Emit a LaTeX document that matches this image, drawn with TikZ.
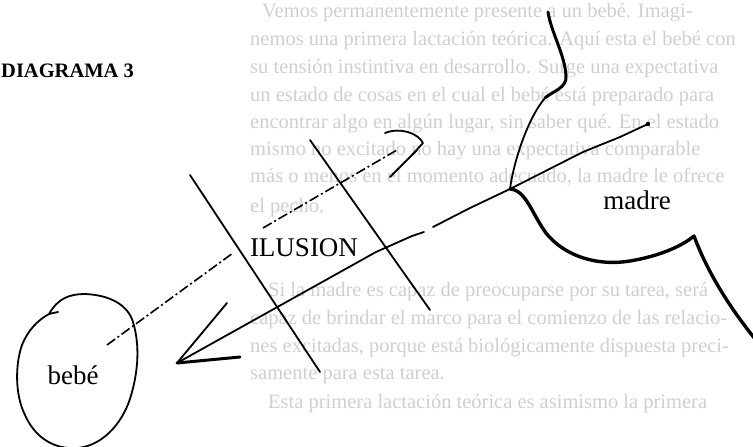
\documentclass[tikz,border=0pt]{standalone}
\usepackage{fontspec}
\setmainfont{Liberation Serif}
\begin{document}
\begin{tikzpicture}[
        x=1pt, y=-1pt,
        label/.style={font=\fontsize{27}{27}\selectfont, inner sep=0pt},
        heading/.style={font=\fontsize{20.5}{20.5}\selectfont\bfseries, inner sep=0pt, anchor=west},
        bgline/.style={font=\fontsize{20.5}{20.5}\selectfont, inner sep=0pt, anchor=west, text=black!19},
        stroke/.style={line width=1.8pt, line cap=round, line join=round},
        heavy/.style={line width=3.4pt, line cap=round, line join=round},
        dashline/.style={line width=1.6pt, dash pattern=on 10pt off 3pt on 2pt off 3pt}
    ]
        \useasboundingbox (0,0) rectangle (753,447);
        \clip (0,0) rectangle (753,447);

        \foreach \xpos/\ypos/\words in {
            262/13/{Vemos permanentemente presente a un bebé. Imagi-},
            250/41/{nemos una primera lactación teórica. Aquí esta el bebé con},
            250/69/{su tensión instintiva en desarrollo. Surge una expectativa},
            250/97/{un estado de cosas en el cual el bebé está preparado para},
            250/124/{encontrar algo en algún lugar, sin saber qué. En el estado},
            250/151/{mismo no excitado no hay una expectativa comparable},
            250/177/{más o menos en el momento adecuado, la madre le ofrece},
            250/208/{el pecho.},
            268/292/{Si la madre es capaz de preocuparse por su tarea, será},
            250/320/{capaz de brindar el marco para el comienzo de las relacio-},
            250/348/{nes excitadas, porque está biológicamente dispuesta preci-},
            250/376/{samente para esta tarea.},
            268/404/{Esta primera lactación teórica es asimismo la primera}} {
            \node[bgline] at (\xpos,\ypos) {\words};
        }

        \node[heading] (title) at (1,71) {DIAGRAMA 3};
        \node[label] (ilusion) at (304,248) {ILUSION};
        \node[label] (madre) at (637,200) {madre};
        \node[label] (bebe) at (73,375) {bebé};

        \coordinate (madreTop) at (548,12);
        \coordinate (junction) at (510,189);
        \coordinate (madreTip) at (648,124);
        \coordinate (cusp) at (694,236);
        \coordinate (arrowTip) at (177,363);
        \coordinate (bebeIn) at (107,345);
        \coordinate (ilusionTip) at (423,143);
        \coordinate (crossA1) at (190,175);
        \coordinate (crossA2) at (320,372);
        \coordinate (crossC1) at (310,140);
        \coordinate (crossC2) at (430,310);

        \draw[heavy, line width=3pt] (madreTop) .. controls (551,32) and (565,55)
            .. (566,76) .. controls (567,88) and (553,91) .. (545,98);
        \draw[stroke] (545,98) .. controls (528,118) and (514,160) .. (junction);
        \draw[heavy] (junction) .. controls (526,190) and (532,214) .. (546,233)
            .. controls (566,258) and (600,266) .. (630,261)
            .. controls (660,256) and (682,246) .. (cusp)
            .. controls (700,252) and (716,292) .. (760,345);

        \draw[stroke] (madreTip) -- (620,137) -- (583,152) -- (junction)
            -- (470,208) -- (433,227);
        \draw[stroke] (424,232) -- (412,236) -- (376,252) -- (arrowTip);
        \fill (madreTip) circle (2.2pt);
        \draw[stroke] (227,303) -- (arrowTip);
        \draw[heavy, line width=3pt] (arrowTip) -- (240,357);

        \draw[stroke] (crossA1) -- (crossA2);
        \draw[stroke] (crossC1) -- (crossC2);

        \draw[dashline] (bebeIn) -- (233,253);
        \draw[dashline] (263,228) -- (397,150);
        \draw[stroke] (385,133) .. controls (400,127) and (418,133) .. (ilusionTip)
            -- (412,155);
        \draw[stroke] (417,150) -- (390,177);

        \draw[stroke] (58,312) -- (49,314) .. controls (58,298) and (70,294) .. (85,294)
            .. controls (110,295) and (128,305) .. (133,322)
            .. controls (140,345) and (138,370) .. (132,392)
            .. controls (125,420) and (105,445) .. (78,448)
            .. controls (55,450) and (35,438) .. (25,415)
            .. controls (15,395) and (15,365) .. (22,345)
            .. controls (28,330) and (38,320) .. (49,314);
    \end{tikzpicture}
\end{document}
